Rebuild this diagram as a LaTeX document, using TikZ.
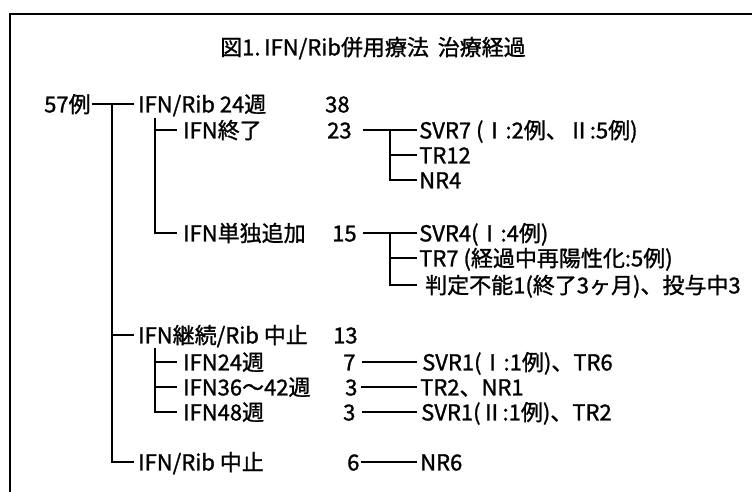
\documentclass[tikz,border=0pt]{standalone}
\usepackage{fontspec}
\setmainfont{Noto Sans CJK JP}[FakeBold=1.2]
\begin{document}
\begin{tikzpicture}[x=1pt,y=-1pt,
  lbl/.style={anchor=west,inner sep=0pt,font=\fontsize{22}{26}\selectfont,text height=17pt,text depth=0.2pt},
  ln/.style={line width=1.7pt,line join=miter},
  framestyle/.style={line width=2.4pt}]
\useasboundingbox (0,0) rectangle (752,492);
\draw[framestyle] (10,492) -- (10,14) -- (752,14);
% title
\node[lbl] (title) at (220,47) {図1.\,IFN/Rib併用療法\hspace{0.4em}治療経過};
% level 0/1
\node[lbl] (n57) at (44,104) {57例};
\node[lbl] (a1) at (138,104) {IFN/Rib 24週};
\node[lbl] (n38) at (325,104) {38};
\node[lbl] (b1) at (183,130) {IFN終了};
\node[lbl] (n23) at (327,130) {23};
\node[lbl] (c1) at (419,130) {SVR7 (Ⅰ:2例、Ⅱ:5例)};
\node[lbl] (c2) at (419,155) {TR12};
\node[lbl] (c3) at (419,180) {NR4};
\node[lbl] (b2) at (183,233) {IFN単独追加};
\node[lbl] (n15) at (332,233) {15};
\node[lbl] (d1) at (419,233) {SVR4(Ⅰ:4例)};
\node[lbl] (d2) at (419,258) {TR7 (経過中再陽性化:5例)};
\node[lbl] (d3) at (425,285) {判定不能1(終了3ヶ月)、投与中3};
\node[lbl] (a2) at (138,335) {IFN継続/Rib 中止};
\node[lbl] (n13) at (333,335) {13};
\node[lbl] (e1) at (183,362) {IFN24週};
\node[lbl] (n7) at (343,362) {7};
\node[lbl] (f1) at (422,362) {SVR1(Ⅰ:1例)、TR6};
\node[lbl] (e2) at (183,387) {IFN36～42週};
\node[lbl] (n3a) at (345,387) {3};
\node[lbl] (f2) at (420,387) {TR2、NR1};
\node[lbl] (e3) at (183,412) {IFN48週};
\node[lbl] (n3b) at (343,412) {3};
\node[lbl] (f3) at (421,412) {SVR1(Ⅱ:1例)、TR2};
\node[lbl] (a3) at (138,462) {IFN/Rib 中止};
\node[lbl] (n6) at (347,462) {6};
\node[lbl] (f4) at (420,462) {NR6};
% junction coordinates
\coordinate (t0) at (112,104);
\coordinate (s1) at (155,118);
\coordinate (s2) at (155,348);
\coordinate (g1) at (390,130);
\coordinate (g2) at (390,233);
% trunk
\draw[ln] ([xshift=1pt]n57.east) -- ([xshift=-4pt]a1.west);
\draw[ln] (t0) |- ([xshift=-4pt]a3.west);
\draw[ln] (t0 |- a2.west) -- ([xshift=-4pt]a2.west);
% IFN/Rib 24 sub-branches
\draw[ln] (s1) |- ([xshift=-6pt]b2.west);
\draw[ln] (s1 |- b1.west) -- ([xshift=-6pt]b1.west);
% from 23
\draw[ln] ([xshift=11pt]n23.east) -- ([xshift=-2pt]c1.west);
\draw[ln] (g1) |- ([xshift=-2pt]c3.west);
\draw[ln] (g1 |- c2.west) -- ([xshift=-2pt]c2.west);
% from 15
\draw[ln] ([xshift=6pt]n15.east) -- ([xshift=-2pt]d1.west);
\draw[ln] (g2) |- ([xshift=-8pt]d3.west);
\draw[ln] (g2 |- d2.west) -- ([xshift=-2pt]d2.west);
% IFN continued sub-branches
\draw[ln] (s2) |- ([xshift=-6pt]e3.west);
\draw[ln] (s2 |- e1.west) -- ([xshift=-6pt]e1.west);
\draw[ln] (s2 |- e2.west) -- ([xshift=-6pt]e2.west);
% right-hand outcome lines
\draw[ln] ([xshift=6pt]n7.east) -- ([xshift=-5pt]f1.west);
\draw[ln] ([xshift=3pt]n3a.east) -- ([xshift=-3pt]f2.west);
\draw[ln] ([xshift=6pt]n3b.east) -- ([xshift=-4pt]f3.west);
\draw[ln] ([xshift=1pt]n6.east) -- ([xshift=-3pt]f4.west);
\end{tikzpicture}
\end{document}
